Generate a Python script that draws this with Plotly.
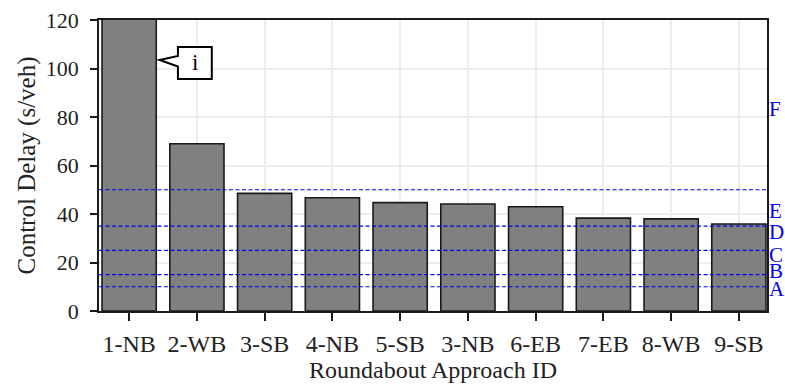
import plotly.graph_objects as go

# Approach IDs and their control delay (s/veh)
approaches = ["1-NB", "2-WB", "3-SB", "4-NB", "5-SB", "3-NB", "6-EB", "7-EB", "8-WB", "9-SB"]
delays = [150, 69, 48.5, 46.7, 44.7, 44.1, 43.0, 38.3, 38.0, 35.9]

# Level-of-service thresholds (s/veh) and LOS letters with label heights
los_thresholds = [10, 15, 25, 35, 50]
los_letters = ["A", "B", "C", "D", "E", "F"]
los_label_y = [8.9, 16.5, 23.0, 32.4, 41.2, 83.5]

y_ticks = [0, 20, 40, 60, 80, 100, 120]

FONT = "Liberation Serif, Times New Roman, serif"
BLUE = "#0000ee"
INK = "#1a1a1a"

fig = go.Figure()
fig.add_trace(go.Bar(
    x=approaches,
    y=delays,
    width=0.8,
    marker=dict(color="#808080", line=dict(color=INK, width=1.6)),
    cliponaxis=True,
    showlegend=False,
))

shapes = []
for t in los_thresholds:
    shapes.append(dict(
        type="line", xref="paper", x0=0, x1=1, yref="y", y0=t, y1=t,
        line=dict(color=BLUE, width=1.1, dash="4px,2.5px"), layer="above",
    ))

# speech-bubble callout next to the first (clipped) bar
shapes.append(dict(
    type="path", xref="x", yref="y",
    path="M 0.72,108.9 L 1.22,108.9 L 1.22,95.7 L 0.72,95.7 L 0.72,100.8 "
         "L 0.45,103.5 L 0.72,105.2 Z",
    fillcolor="white", line=dict(color="black", width=2), layer="above",
))

annotations = [dict(
    x=0.97, y=102.3, xref="x", yref="y", text="i", showarrow=False,
    font=dict(family=FONT, size=23, color="black"),
)]
for letter, ly in zip(los_letters, los_label_y):
    annotations.append(dict(
        x=1.0, y=ly, xref="paper", yref="y", text=letter, showarrow=False,
        xanchor="left", xshift=0, yanchor="middle", height=14,
        font=dict(family=FONT, size=21, color=BLUE),
    ))

fig.update_layout(
    width=785, height=387,
    margin=dict(l=99, r=18, t=20, b=76, autoexpand=False),
    paper_bgcolor="white", plot_bgcolor="white",
    font=dict(family=FONT, size=22, color="#222"),
    shapes=shapes, annotations=annotations,
    bargap=0.2,
)
fig.update_xaxes(
    range=[-0.445, 9.415], automargin=False,
    showline=True, linecolor=INK, linewidth=1.5, mirror=True,
    ticks="outside", ticklen=8, tickcolor=INK, tickwidth=1.5,
    showgrid=True, gridcolor="#ededed", gridwidth=2,
    tickfont=dict(family=FONT, size=24, color="#222"),
    ticklabelstandoff=2,
    title=dict(text="Roundabout Approach ID", font=dict(family=FONT, size=24), standoff=4),
)
fig.update_yaxes(
    range=[0, 120], tickvals=y_ticks, automargin=False,
    showline=True, linecolor=INK, linewidth=1.5, mirror=True,
    ticks="outside", ticklen=7, tickcolor=INK, tickwidth=1.5,
    showgrid=True, gridcolor="#ededed", gridwidth=2, zeroline=False,
    tickfont=dict(family=FONT, size=22, color="#222"),
    ticklabelstandoff=7,
    title=dict(text="Control Delay (s/veh)", font=dict(family=FONT, size=25), standoff=3),
)

fig.write_html("out.html")
